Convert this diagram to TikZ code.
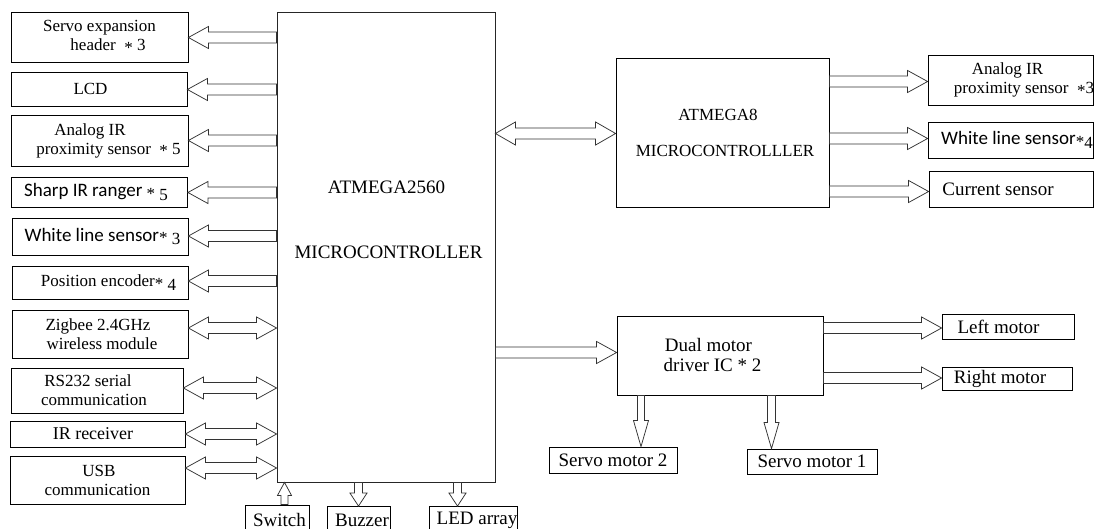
\documentclass[tikz,border=0pt]{standalone}
\usepackage{fontspec}
\setmainfont{Liberation Serif}
\newfontfamily\calfont{Carlito}
\usetikzlibrary{calc}
\newcommand\fsa{\fontsize{17}{19}\selectfont}
\newcommand\fsb{\fontsize{19}{20}\selectfont}
\newcommand\fsc{\fontsize{18}{20}\selectfont}
\newcommand\fsd{\fontsize{19}{20}\selectfont}
\newcommand\sx{\raisebox{-0.15em}{*}}
\newcommand\lo[1]{\raisebox{-0.2em}{#1}}
\newcommand\sh[2]{\makebox[0pt]{\hspace*{#1}#2}}
% single block arrow: tail, tip, half shaft, half head, head length
\newcommand\barrow[5]{%
  \coordinate (ba-a) at (#1);
  \coordinate (ba-b) at (#2);
  \coordinate (ba-h) at ($(ba-b)!#5!(ba-a)$);
  \draw[arr] ($(ba-a)!#3!90:(ba-b)$) -- ($(ba-h)!#3!90:(ba-b)$) -- ($(ba-h)!#4!90:(ba-b)$) -- (ba-b) -- ($(ba-h)!#4!-90:(ba-b)$) -- ($(ba-h)!#3!-90:(ba-b)$) -- ($(ba-a)!#3!-90:(ba-b)$) -- cycle;}
% double block arrow
\newcommand\dbarrow[5]{%
  \coordinate (ba-a) at (#1);
  \coordinate (ba-b) at (#2);
  \coordinate (ba-h) at ($(ba-b)!#5!(ba-a)$);
  \coordinate (ba-t) at ($(ba-a)!#5!(ba-b)$);
  \draw[arr] (ba-a) -- ($(ba-t)!#4!90:(ba-b)$) -- ($(ba-t)!#3!90:(ba-b)$) -- ($(ba-h)!#3!90:(ba-b)$) -- ($(ba-h)!#4!90:(ba-b)$) -- (ba-b) -- ($(ba-h)!#4!-90:(ba-b)$) -- ($(ba-h)!#3!-90:(ba-b)$) -- ($(ba-t)!#3!-90:(ba-b)$) -- ($(ba-t)!#4!-90:(ba-b)$) -- cycle;}
\begin{document}
\begin{tikzpicture}[x=1pt,y=-1pt,
  box/.style={draw=black, line width=0.8pt, inner sep=0pt, align=center, font=\fsa, fill=white},
  arr/.style={draw=black!80, line width=0.75pt, fill=white, line join=miter}]
\useasboundingbox (0,0) rectangle (1095,529);
\fill[white] (0,0) rectangle (1095,529);

% main controller
\node[box, draw=black!85, minimum width=218pt, minimum height=470pt] (main) at (386,247) {};
\node[font=\fsd, align=center, inner sep=0pt] (maintxt) at (386.5,220) {ATMEGA2560\\[45pt]\sh{4pt}{MICROCONTROLLER}};

% left column
\node[box, minimum width=177pt, minimum height=50pt] (servo) at (99.5,37) {\sh{0pt}{Servo expansion}\\\sh{17pt}{header~~\sx\ 3}};
\node[box, minimum width=176pt, minimum height=34pt] (lcd) at (99,89) {\sh{-17pt}{LCD}};
\node[box, minimum width=177pt, minimum height=51pt] (anir) at (99.5,140.5) {\sh{-19pt}{Analog IR}\\\sh{18pt}{proximity sensor~~\sx\ 5}};
\node[box, minimum width=176pt, minimum height=30pt] (sharp) at (99.5,192) {\sh{-7pt}{{\calfont\fsb Sharp IR ranger} \sx\ \lo{5}}};
\node[box, minimum width=176pt, minimum height=37pt] (white) at (100,236.5) {\sh{5pt}{{\calfont\fsb White line sensor}\sx\ \lo{3}}};
\node[box, minimum width=176pt, minimum height=33pt] (pos) at (100,282.5) {\sh{17pt}{Position encoder\sx\ \lo{4}}};
\node[box, minimum width=176pt, minimum height=48pt] (zig) at (100,334) {\sh{-4pt}{Zigbee 2.4GHz}\\\sh{4pt}{wireless module}};
\node[box, minimum width=172pt, minimum height=45pt] (rs) at (97,390.5) {\sh{-18pt}{RS232 serial}\\\sh{-6pt}{communication}};
\node[box, font=\fsc, minimum width=175pt, minimum height=26pt] (irr) at (97.5,434) {\sh{-9pt}{IR receiver}};
\node[box, minimum width=175pt, minimum height=48pt] (usb) at (97.5,480) {\sh{3pt}{USB}\\\sh{0pt}{communication}};

% bottom row
\node[box, font=\fsb, minimum width=64pt, minimum height=29pt] (switch) at (277,519.5) {\sh{5pt}{Switch}};
\node[box, font=\fsb, minimum width=63pt, minimum height=27pt] (buzzer) at (358.5,520) {\sh{7pt}{Buzzer}};
\node[box, font=\fsb, minimum width=88pt, minimum height=27pt] (led) at (473,520) {\sh{8pt}{LED array}};

% ATMEGA8 group
\node[box, minimum width=213pt, minimum height=149pt] (atm8) at (722.5,132.5) {\sh{-9pt}{ATMEGA8}\\[17pt]\sh{5pt}{MICROCONTROLLLER}};
\node[box, minimum width=165pt, minimum height=50pt] (ranir) at (1010.5,80) {\sh{-6pt}{Analog IR}\\\sh{27pt}{proximity sensor~~\sx3}};
\node[box, minimum width=165pt, minimum height=36pt] (rwhite) at (1010.5,140) {\sh{13pt}{{\calfont\fsb White line sensor}\sx\lo{4}}};
\node[box, font=\fsb, minimum width=164pt, minimum height=36pt] (rcur) at (1011,189) {\sh{-26pt}{Current sensor}};

% motor group
\node[box, font=\fsb, minimum width=206pt, minimum height=79pt] (motor) at (720,355.5) {\sh{-23pt}{Dual motor}\\\sh{-15pt}{driver IC * 2}};
\node[box, font=\fsb, minimum width=132pt, minimum height=25pt] (lmot) at (1008,326.5) {\sh{-19pt}{Left motor}};
\node[box, font=\fsb, minimum width=130pt, minimum height=23pt] (rmot) at (1007,378.5) {\sh{-14pt}{Right motor}};
\node[box, font=\fsb, minimum width=128pt, minimum height=26pt] (servo2) at (613,460) {Servo motor 2};
\node[box, font=\fsb, minimum width=130pt, minimum height=25pt] (servo1) at (812,461.5) {Servo motor 1};

% left arrows (outputs)
\barrow{main.west |- 0,37.5}{servo.east |- 0,37.5}{5.5pt}{11pt}{20pt}
\barrow{main.west |- 0,89.5}{lcd.east |- 0,89.5}{5.5pt}{11pt}{20pt}
\barrow{main.west |- 0,140.5}{anir.east |- 0,140.5}{5.5pt}{11pt}{20pt}
\barrow{main.west |- 0,192.5}{sharp.east |- 0,192.5}{5.5pt}{11pt}{20pt}
\barrow{main.west |- 0,236}{white.east |- 0,236}{5.5pt}{11pt}{20pt}
\barrow{main.west |- 0,281}{pos.east |- 0,281}{5.5pt}{11pt}{20pt}
% left bidirectional
\dbarrow{zig.east |- 0,328}{main.west |- 0,328}{5.5pt}{11pt}{20pt}
\dbarrow{rs.east |- 0,388}{main.west |- 0,388}{5.5pt}{11pt}{20pt}
\dbarrow{irr.east |- 0,434}{main.west |- 0,434}{5.5pt}{11pt}{20pt}
\dbarrow{usb.east |- 0,468}{main.west |- 0,468}{5.5pt}{11pt}{20pt}
% bottom
\barrow{switch.north -| 284.5,0}{main.south -| 284.5,0}{3.5pt}{7pt}{13pt}
\barrow{main.south -| 358.5,0}{buzzer.north -| 358.5,0}{4pt}{8.5pt}{13pt}
\barrow{main.south -| 457.5,0}{led.north -| 457.5,0}{4pt}{8.5pt}{13pt}
% right
\dbarrow{main.east |- 0,133.5}{atm8.west |- 0,133.5}{5.5pt}{11.5pt}{20pt}
\barrow{atm8.east |- 0,81.5}{ranir.west |- 0,81.5}{5.5pt}{11pt}{20pt}
\barrow{atm8.east |- 0,138.5}{rwhite.west |- 0,138.5}{5.5pt}{11pt}{20pt}
\barrow{atm8.east |- 0,191.5}{rcur.west |- 0,191.5}{5.5pt}{11pt}{20pt}
\barrow{main.east |- 0,352.5}{motor.west |- 0,352.5}{5.5pt}{11pt}{20pt}
\barrow{motor.east |- 0,328}{lmot.west |- 0,328}{5.5pt}{11pt}{20pt}
\barrow{motor.east |- 0,378}{rmot.west |- 0,378}{5.5pt}{11pt}{20pt}
\barrow{motor.south -| 641,0}{servo2.north -| 641,0}{3.5pt}{7.5pt}{26pt}
\barrow{motor.south -| 771.5,0}{servo1.north -| 771.5,0}{4pt}{7.5pt}{26pt}
\end{tikzpicture}
\end{document}
